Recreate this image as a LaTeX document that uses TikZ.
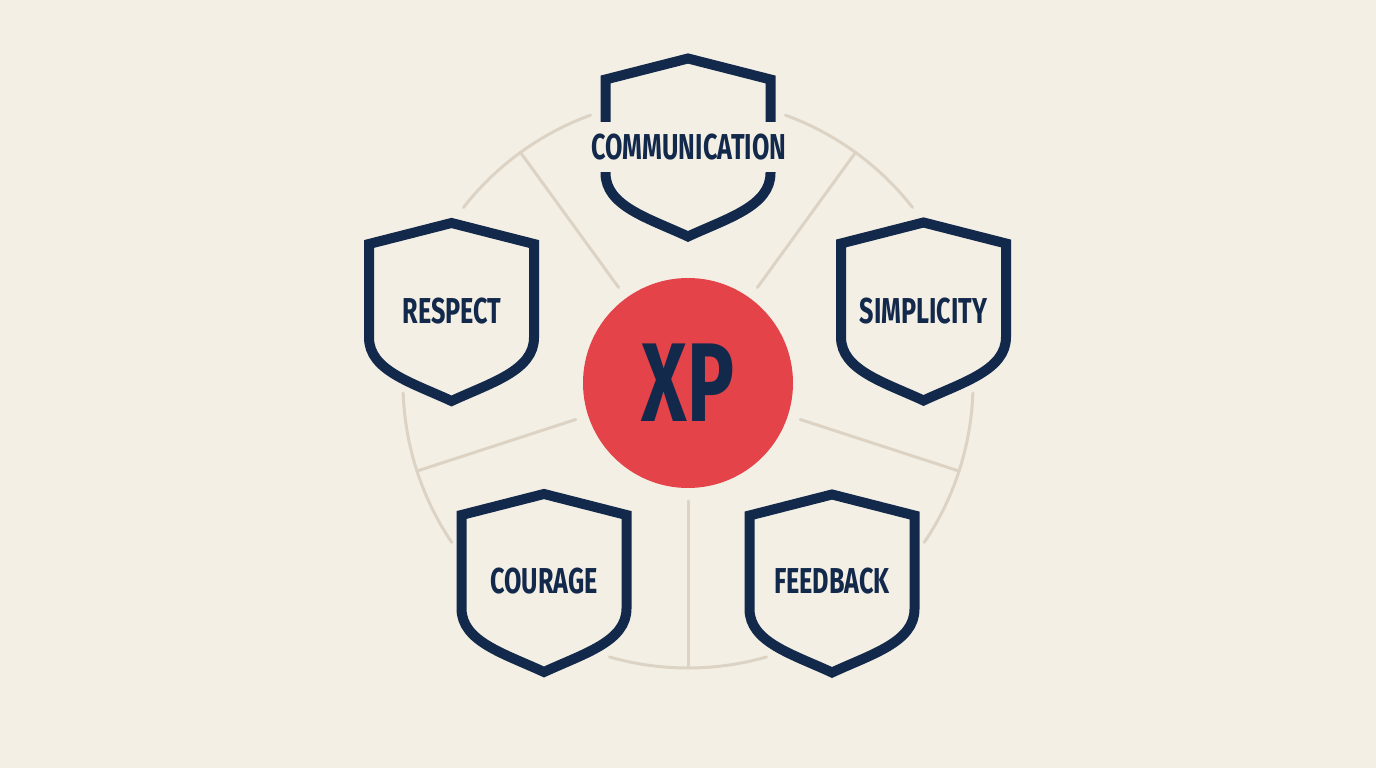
\documentclass[tikz,border=0pt]{standalone}
\usepackage{fontspec}
\newfontfamily\valuefont[FakeStretch=0.7]{Fira Sans}
\usepackage{xcolor}
\usepackage{tikz}
\usetikzlibrary{calc, positioning}

\definecolor{bgcream}{HTML}{F3EFE4}
\definecolor{navy}{HTML}{13294B}
\definecolor{xpred}{HTML}{E4434A}
\definecolor{ringtan}{HTML}{DCD3C5}

\tikzset{
    shield/.pic={
        \draw[navy, fill=bgcream, line width=10pt, line join=miter]
            (0,89.5) -- (82.5,68.5) -- (82.5,-25)
            .. controls (82.5,-58) and (40,-70) .. (0,-88.5)
            .. controls (-40,-70) and (-82.5,-58) .. (-82.5,-25)
            -- (-82.5,68.5) -- cycle;
    }
}

\begin{document}
\begin{tikzpicture}[x=1pt, y=1pt,
    value/.style={font=\valuefont\bfseries\fontsize{36}{36}\selectfont, text=navy,
        fill=bgcream, inner xsep=0pt, inner ysep=11.5pt},
    ring/.style={draw=ringtan, line width=3pt, line cap=round}]
    % Nền
    \fill[bgcream] (0,0) rectangle (1376,768);
    \useasboundingbox (0,0) rectangle (1376,768);

    % Vòng tròn trung tâm
    \node[circle, fill=xpred, minimum size=210pt, inner sep=0pt,
        font=\valuefont\bfseries\fontsize{112}{112}\selectfont, text=navy] (xp) at (688,385) {XP};

    % Nan hoa và cung tròn
    \foreach \a in {54,126,198,270,342} {
        \draw[ring] ($(xp.center)+(\a:118)$) -- ($(xp.center)+(\a:285)$);
        \draw[ring] ($(xp.center)+(\a-16:285)$) arc[start angle=\a-16, end angle=\a+16, radius=285];
    }

    % Các khiên
    \coordinate (comm) at (688,620);
    \coordinate (resp) at (451.5,455.5);
    \coordinate (simp) at (923.5,456);
    \coordinate (cour) at (544,184.5);
    \coordinate (feed) at (832,184);
    \foreach \c in {comm,resp,simp,cour,feed}
        \pic at (\c) {shield};

    % Nhãn
    \node[value] (commlabel) at ($(comm)+(1,1)$) {COMMUNICATION};
    \node[value] (resplabel) at ($(resp)+(0.5,1.5)$) {RESPECT};
    \node[value] (simplabel) at ($(simp)+(0,1)$) {SIMPLICITY};
    \node[value] (courlabel) at ($(cour)+(0,2.5)$) {COURAGE};
    \node[value] (feedlabel) at ($(feed)+(0,3)$) {FEEDBACK};
\end{tikzpicture}
\end{document}
